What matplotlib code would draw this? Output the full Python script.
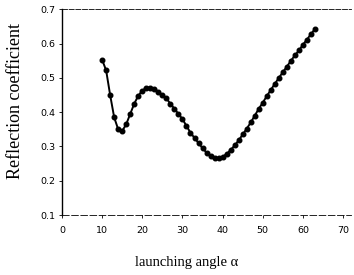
import matplotlib
matplotlib.use("Agg")
import matplotlib.pyplot as plt

# launching angle (degrees) and reflection coefficient
angle = list(range(10, 64))
refl = [0.553, 0.522, 0.450, 0.385, 0.350, 0.345, 0.365, 0.395, 0.425, 0.448,
        0.463, 0.471, 0.472, 0.468, 0.460, 0.450, 0.440, 0.425, 0.410, 0.395,
        0.380, 0.360, 0.340, 0.325, 0.310, 0.295, 0.282, 0.272, 0.266, 0.265,
        0.270, 0.278, 0.290, 0.303, 0.318, 0.335, 0.352, 0.370, 0.390, 0.410,
        0.428, 0.447, 0.465, 0.483, 0.500, 0.517, 0.533, 0.550, 0.566, 0.580,
        0.597, 0.612, 0.628, 0.643]

xticks = [0, 10, 20, 30, 40, 50, 60, 70]
yticks = [0.1, 0.2, 0.3, 0.4, 0.5, 0.6, 0.7]

fig = plt.figure(figsize=(3.54, 2.75), dpi=100)
ax = fig.add_axes([0.175, 0.218, 0.817, 0.748])

ax.plot(angle, refl, color="black", linewidth=1.4, marker="o",
        markersize=3.3)

ax.set_xlim(0, 72)
ax.set_ylim(0.1, 0.7)
ax.set_xticks(xticks)
ax.set_yticks(yticks)
ax.tick_params(labelsize=6.8, length=2, width=0.6, direction="out", pad=6)
ax.tick_params(axis="y", pad=3)

ax.spines["right"].set_visible(False)
ax.spines["top"].set_linestyle((0, (6, 2)))
ax.spines["top"].set_linewidth(0.6)
ax.spines["bottom"].set_linestyle((0, (8, 3)))
ax.spines["bottom"].set_linewidth(0.6)
ax.spines["left"].set_linewidth(1.0)

ax.set_xlabel("launching angle \u03b1", family="Liberation Serif",
              fontsize=10.5)
ax.xaxis.set_label_coords(0.43, -0.2)
ax.set_ylabel("Reflection coefficient", family="Liberation Serif",
              fontsize=13)
ax.yaxis.set_label_coords(-0.13, 0.555)

fig.savefig("out.png", dpi=100)
